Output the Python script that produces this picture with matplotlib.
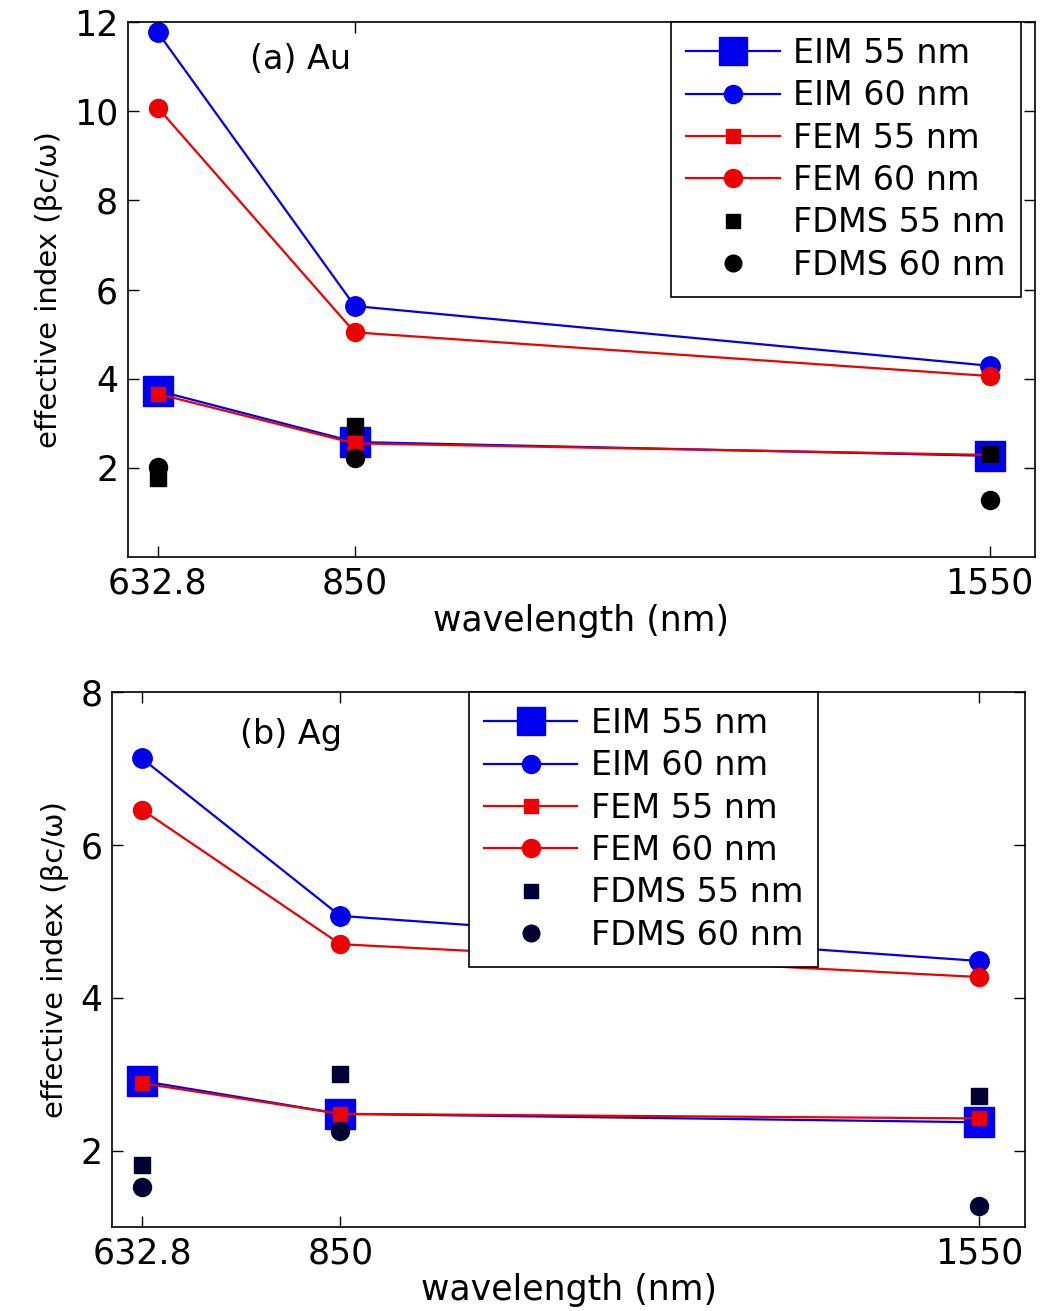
import matplotlib
matplotlib.use("Agg")
import matplotlib.pyplot as plt

# wavelengths (nm)
wavelength = [632.8, 850, 1550]
wl_ticks = [632.8, 850, 1550]
wl_ticklabels = ["632.8", "850", "1550"]

# (a) Au
au_eim_55 = [3.73, 2.58, 2.27]
au_eim_60 = [11.77, 5.63, 4.29]
au_fem_55 = [3.66, 2.55, 2.29]
au_fem_60 = [10.08, 5.04, 4.06]
au_fdms_55 = [1.78, 2.94, 2.30]
au_fdms_60 = [2.03, 2.22, 1.27]

# (b) Ag
ag_eim_55 = [2.91, 2.48, 2.37]
ag_eim_60 = [7.13, 5.07, 4.48]
ag_fem_55 = [2.88, 2.48, 2.42]
ag_fem_60 = [6.46, 4.70, 4.27]
ag_fdms_55 = [1.81, 3.00, 2.72]
ag_fdms_60 = [1.52, 2.25, 1.28]

labels = ["EIM 55 nm", "EIM 60 nm", "FEM 55 nm", "FEM 60 nm", "FDMS 55 nm", "FDMS 60 nm"]

BLUE = "#0000ee"
RED = "#ee0000"


def draw_panel(ax, eim55, eim60, fem55, fem60, fdms55, fdms60, fdms_color):
    h = []
    h += ax.plot(wavelength, eim55, "-s", color=BLUE, lw=1.6, ms=22, mec=BLUE, zorder=2)
    h += ax.plot(wavelength, eim60, "-o", color=BLUE, lw=1.6, ms=14, mec=BLUE, zorder=2)
    h += ax.plot(wavelength, fem55, "-s", color=RED, lw=1.6, ms=10, mec=RED, zorder=3)
    h += ax.plot(wavelength, fem60, "-o", color=RED, lw=1.6, ms=13, mec=RED, zorder=3)
    h += ax.plot(wavelength, fdms55, "s", color=fdms_color, ms=11, zorder=4)
    h += ax.plot(wavelength, fdms60, "o", color=fdms_color, ms=13, zorder=4)
    ax.set_xlim(600, 1600)
    ax.set_xticks(wl_ticks)
    ax.set_xticklabels(wl_ticklabels)
    ax.tick_params(direction="in", top=True, right=True, length=8, width=1,
                   labelsize=25, pad=7)
    for s in ax.spines.values():
        s.set_linewidth(1.2)
    ax.set_xlabel("wavelength (nm)", fontsize=25, labelpad=2)
    ax.set_ylabel("effective index (βc/ω)", fontsize=21, labelpad=8)
    return h


def add_legend(ax, handles, **kw):
    leg = ax.legend(handles, labels, borderaxespad=0, fontsize=24, labelspacing=0.28,
                    handlelength=2.8, handletextpad=0.4, fancybox=False, framealpha=1,
                    edgecolor="black", borderpad=0.45, **kw)
    leg.get_frame().set_linewidth(1.2)
    for lh, ms in zip(leg.legend_handles, [20, 13, 10, 13, 10, 12]):
        lh.set_markersize(ms)
    return leg


fig = plt.figure(figsize=(10.42, 13.11), dpi=100)

ax1 = fig.add_axes([0.1228, 0.5751, 0.8705, 0.4081])
h1 = draw_panel(ax1, au_eim_55, au_eim_60, au_fem_55, au_fem_60, au_fdms_55, au_fdms_60, "black")
ax1.set_ylim(0, 12)
ax1.set_yticks([2, 4, 6, 8, 10, 12])
ax1.text(0.135, 0.93, "(a) Au", transform=ax1.transAxes, fontsize=24, va="center")
add_legend(ax1, h1, loc="upper right", bbox_to_anchor=(0.984, 1.0))

ax2 = fig.add_axes([0.1075, 0.0641, 0.8762, 0.4081])
h2 = draw_panel(ax2, ag_eim_55, ag_eim_60, ag_fem_55, ag_fem_60, ag_fdms_55, ag_fdms_60, "#000033")
ax2.set_ylim(1, 8)
ax2.set_yticks([2, 4, 6, 8])
ax2.text(0.14, 0.92, "(b) Ag", transform=ax2.transAxes, fontsize=24, va="center")
add_legend(ax2, h2, loc="upper left", bbox_to_anchor=(0.391, 1.0))

fig.savefig("out.png", dpi=100)
